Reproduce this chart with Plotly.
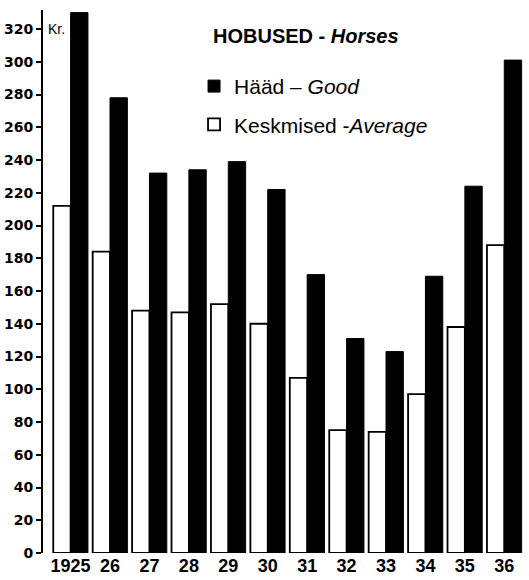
import plotly.graph_objects as go

years = ["1925", "26", "27", "28", "29", "30", "31", "32", "33", "34", "35", "36"]
good = [330, 278, 232, 234, 239, 222, 170, 131, 123, 169, 224, 301]
average = [212, 184, 148, 147, 152, 140, 107, 75, 74, 97, 138, 188]
y_ticks = list(range(0, 321, 20))

fig = go.Figure()
fig.add_trace(go.Bar(
    x=years, y=average, name="Keskmised -<i>Average</i>",
    marker=dict(color="white", line=dict(color="black", width=1.8)),
    legendgroup="a", legendrank=2,
))
fig.add_trace(go.Bar(
    x=years, y=good, name="Hääd – <i>Good</i>",
    marker=dict(color="black", line=dict(color="black", width=1)),
    legendgroup="g", legendrank=1,
))

fig.update_layout(
    width=529, height=580,
    margin=dict(l=43, r=5, t=10, b=27),
    plot_bgcolor="white", paper_bgcolor="white",
    barmode="group", bargap=0.12, bargroupgap=0.0,
    showlegend=True,
    legend=dict(
        x=0.314, y=0.897, xanchor="left", yanchor="top",
        traceorder="grouped", tracegroupgap=8,
        font=dict(family="Liberation Sans, Arial, sans-serif", size=21, color="black"),
        bgcolor="rgba(0,0,0,0)",
    ),
    font=dict(family="Liberation Sans, Arial, sans-serif", color="black"),
    xaxis=dict(
        type="category", range=[-0.70, 11.5], automargin=False,
        showline=False, showgrid=False, zeroline=False, ticks="",
        tickfont=dict(family="Liberation Sans, Arial, sans-serif", size=18, color="black", weight="bold"),
    ),
    yaxis=dict(
        range=[0, 331.6], tickvals=y_ticks, ticktext=[str(v) for v in y_ticks],
        automargin=False,
        showline=True, linecolor="black", linewidth=2,
        ticks="outside", ticklen=5, tickwidth=2, tickcolor="black",
        showgrid=False, zeroline=False,
        tickfont=dict(family="DejaVu Sans", size=14, color="black", weight="bold"),
    ),
    yaxis2=dict(
        overlaying="y", matches="y", side="left", range=[0, 331.6],
        tickvals=y_ticks, showticklabels=False, automargin=False,
        ticks="inside", ticklen=5, tickwidth=2, tickcolor="black",
        showline=False, showgrid=False, zeroline=False,
    ),
    annotations=[
        dict(text="<b>HOBUSED - <i>Horses</i></b>", xref="paper", yref="paper",
             x=0.349, y=0.952, xanchor="left", yanchor="middle", showarrow=False,
             font=dict(family="Liberation Sans, Arial, sans-serif", size=20, color="black")),
        dict(text="Kr.", xref="paper", yref="y", x=0.006, y=320,
             xanchor="left", yanchor="middle", showarrow=False,
             font=dict(family="Liberation Sans, Arial, sans-serif", size=14, color="black")),
    ],
)

fig.write_html(
    "out.html",
    config={"displayModeBar": False},
    post_script="document.body.style.margin='0px';document.body.style.overflow='hidden';",
)
